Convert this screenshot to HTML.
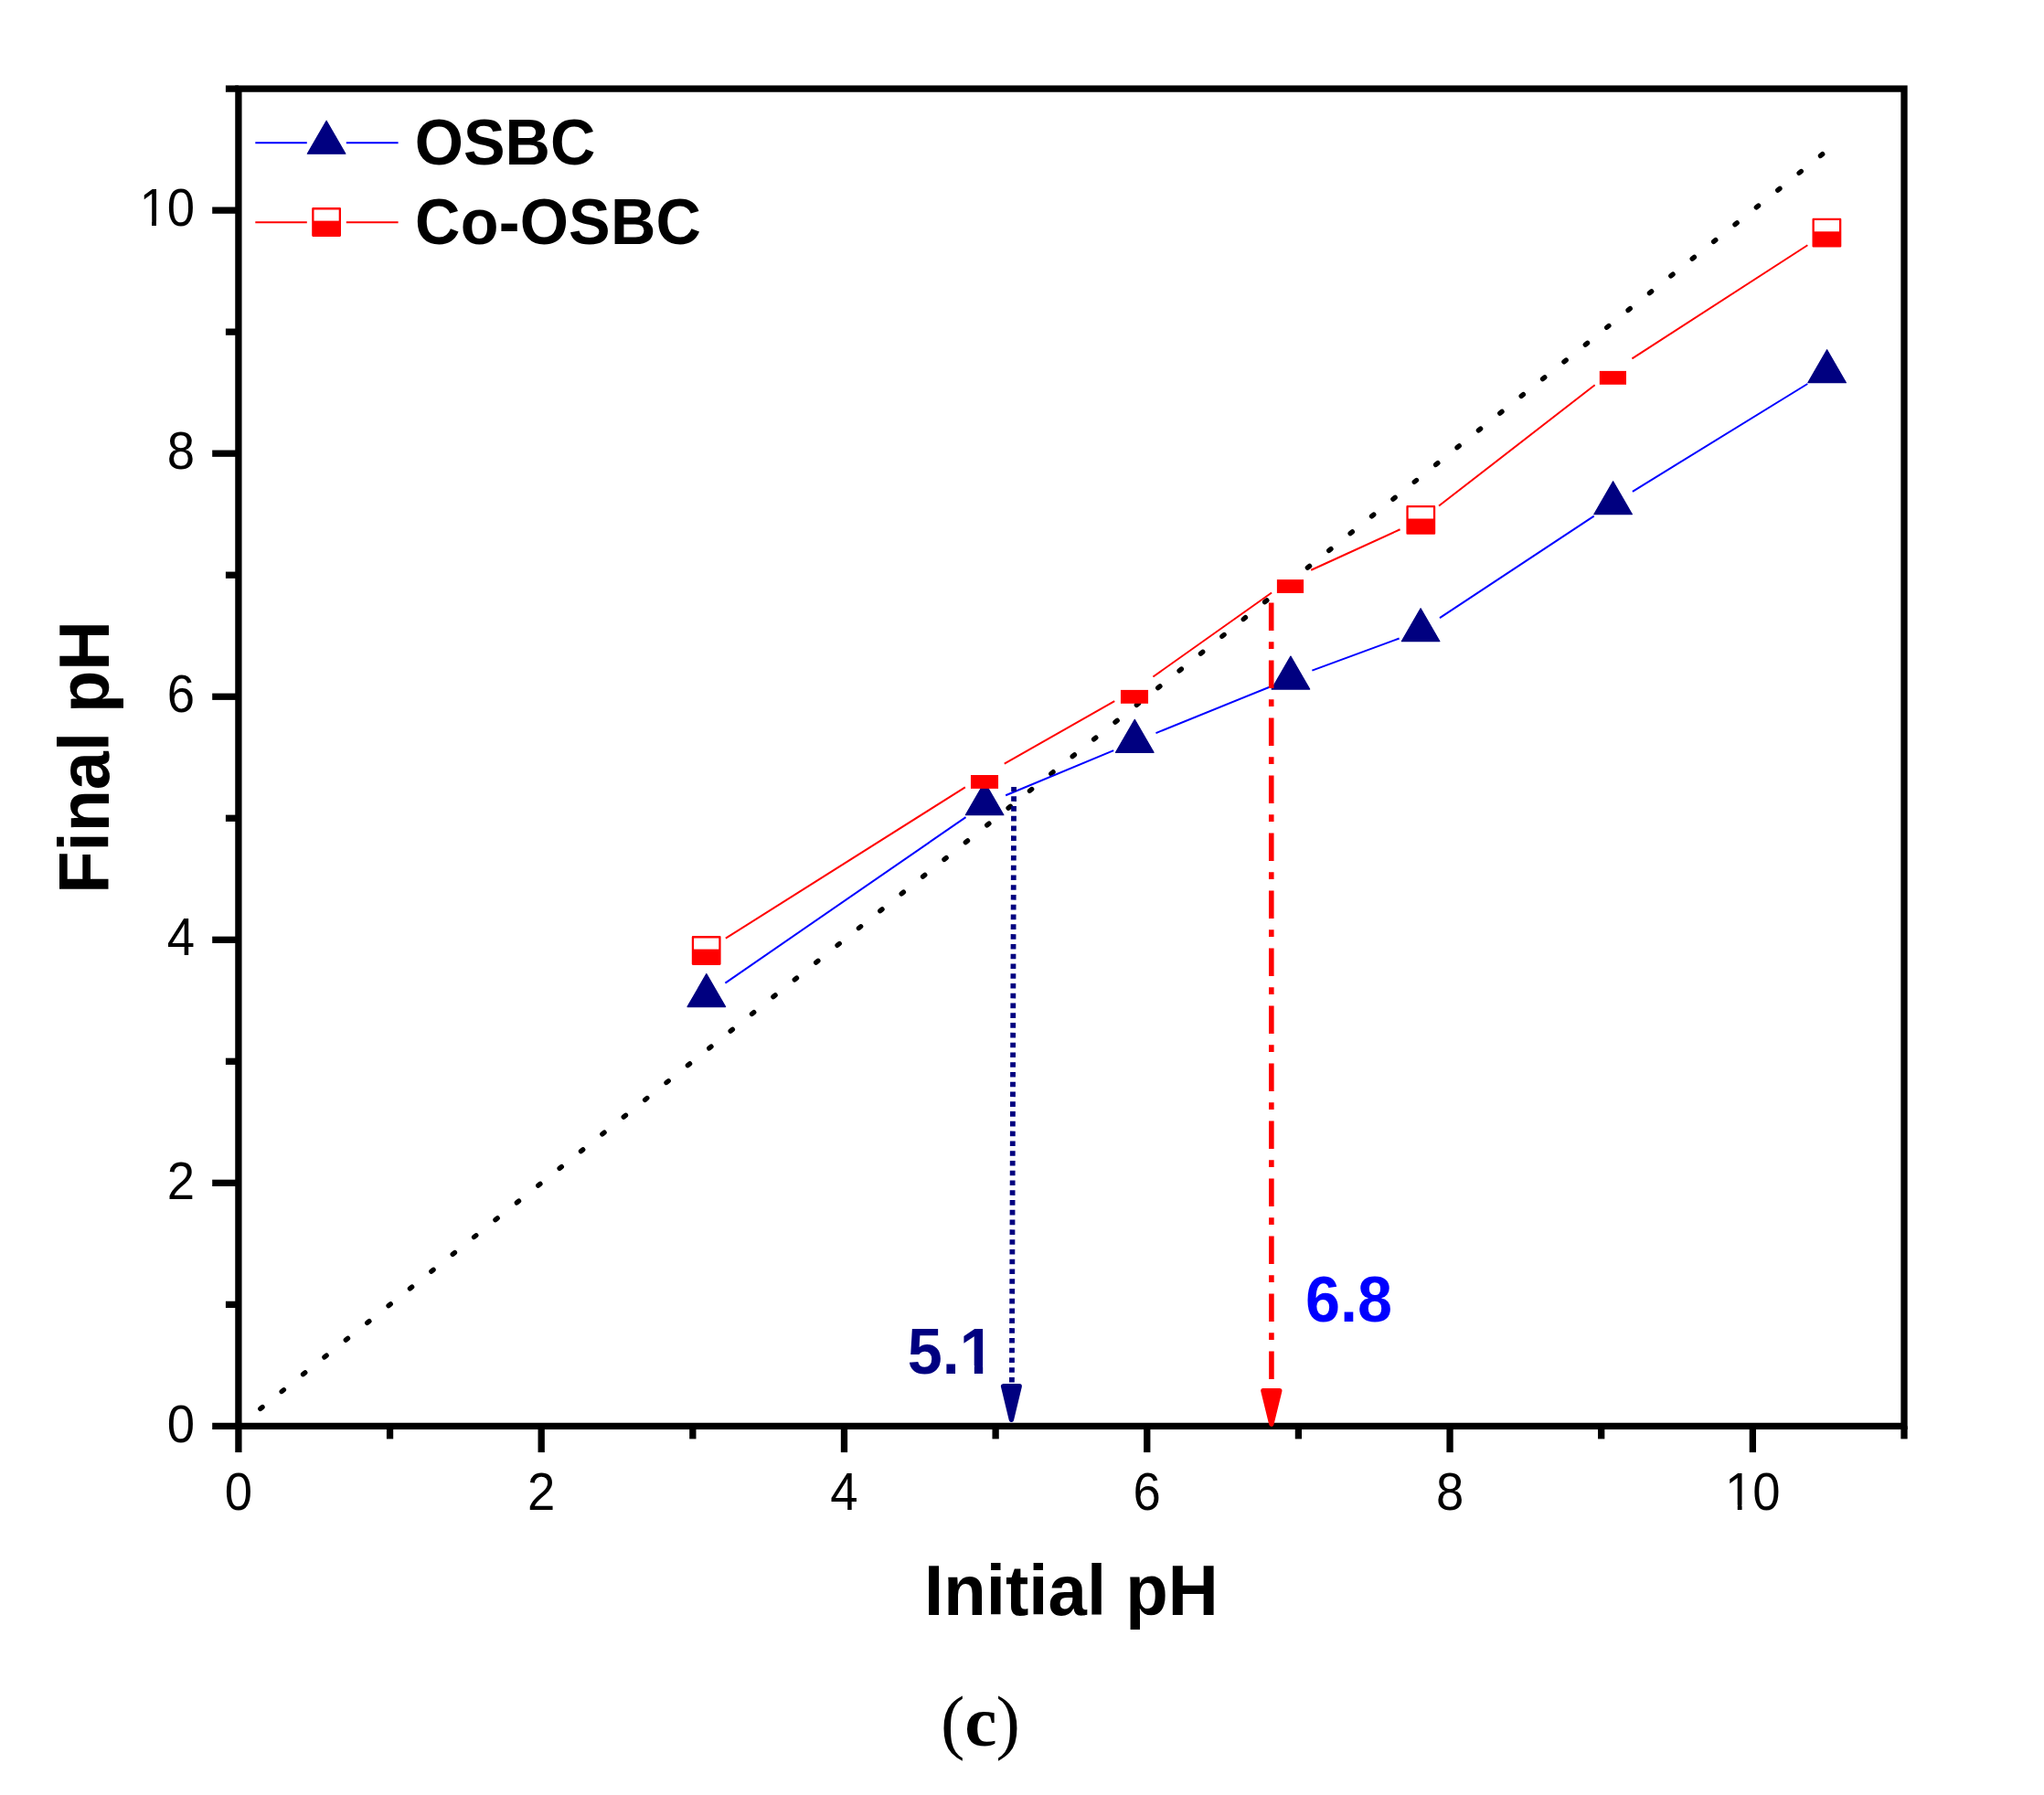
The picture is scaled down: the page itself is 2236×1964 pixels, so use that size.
<!DOCTYPE html>
<html lang="en"><head><meta charset="utf-8"><title>pHpzc plot (c)</title>
<style>
html,body{margin:0;padding:0;background:#fff;}
body{width:2236px;height:1964px;overflow:hidden;}
svg{display:block;}
text{font-family:"Liberation Sans",Arial,Helvetica,sans-serif;fill:#000;}
.tick{font-size:54.5px;}
.title{font-size:76.2px;font-weight:bold;}
.ytitle{font-size:75.7px;font-weight:bold;}
.leg{font-size:68.4px;font-weight:bold;}
.cap{font-family:"Liberation Serif","Times New Roman",serif;font-size:79.3px;}
</style></head><body>
<svg width="2236" height="1964" viewBox="0 0 2236 1964">
<rect x="0" y="0" width="2236" height="1964" fill="#fff"/>
<rect x="260.90" y="97.10" width="1822.10" height="1463.30" fill="none" stroke="#000" stroke-width="7.3"/>
<line x1="260.90" y1="1560.40" x2="260.90" y2="1589.10" stroke="#000" stroke-width="7.3"/>
<line x1="260.90" y1="1560.40" x2="232.20" y2="1560.40" stroke="#000" stroke-width="7.3"/>
<line x1="426.55" y1="1560.40" x2="426.55" y2="1574.40" stroke="#000" stroke-width="7.3"/>
<line x1="260.90" y1="1427.37" x2="246.90" y2="1427.37" stroke="#000" stroke-width="7.3"/>
<line x1="592.19" y1="1560.40" x2="592.19" y2="1589.10" stroke="#000" stroke-width="7.3"/>
<line x1="260.90" y1="1294.35" x2="232.20" y2="1294.35" stroke="#000" stroke-width="7.3"/>
<line x1="757.84" y1="1560.40" x2="757.84" y2="1574.40" stroke="#000" stroke-width="7.3"/>
<line x1="260.90" y1="1161.32" x2="246.90" y2="1161.32" stroke="#000" stroke-width="7.3"/>
<line x1="923.48" y1="1560.40" x2="923.48" y2="1589.10" stroke="#000" stroke-width="7.3"/>
<line x1="260.90" y1="1028.29" x2="232.20" y2="1028.29" stroke="#000" stroke-width="7.3"/>
<line x1="1089.13" y1="1560.40" x2="1089.13" y2="1574.40" stroke="#000" stroke-width="7.3"/>
<line x1="260.90" y1="895.26" x2="246.90" y2="895.26" stroke="#000" stroke-width="7.3"/>
<line x1="1254.77" y1="1560.40" x2="1254.77" y2="1589.10" stroke="#000" stroke-width="7.3"/>
<line x1="260.90" y1="762.24" x2="232.20" y2="762.24" stroke="#000" stroke-width="7.3"/>
<line x1="1420.42" y1="1560.40" x2="1420.42" y2="1574.40" stroke="#000" stroke-width="7.3"/>
<line x1="260.90" y1="629.21" x2="246.90" y2="629.21" stroke="#000" stroke-width="7.3"/>
<line x1="1586.06" y1="1560.40" x2="1586.06" y2="1589.10" stroke="#000" stroke-width="7.3"/>
<line x1="260.90" y1="496.18" x2="232.20" y2="496.18" stroke="#000" stroke-width="7.3"/>
<line x1="1751.71" y1="1560.40" x2="1751.71" y2="1574.40" stroke="#000" stroke-width="7.3"/>
<line x1="260.90" y1="363.15" x2="246.90" y2="363.15" stroke="#000" stroke-width="7.3"/>
<line x1="1917.35" y1="1560.40" x2="1917.35" y2="1589.10" stroke="#000" stroke-width="7.3"/>
<line x1="260.90" y1="230.13" x2="232.20" y2="230.13" stroke="#000" stroke-width="7.3"/>
<line x1="2083.00" y1="1560.40" x2="2083.00" y2="1574.40" stroke="#000" stroke-width="7.3"/>
<line x1="260.90" y1="97.10" x2="246.90" y2="97.10" stroke="#000" stroke-width="7.3"/>
<text class="tick" transform="translate(260.90,1652.40) scale(1,1.041)" text-anchor="middle">0</text>
<text class="tick" transform="translate(213.00,1577.60) scale(1,1.041)" text-anchor="end">0</text>
<text class="tick" transform="translate(592.19,1652.40) scale(1,1.041)" text-anchor="middle">2</text>
<text class="tick" transform="translate(213.00,1311.55) scale(1,1.041)" text-anchor="end">2</text>
<text class="tick" transform="translate(923.48,1652.40) scale(1,1.041)" text-anchor="middle">4</text>
<text class="tick" transform="translate(213.00,1045.49) scale(1,1.041)" text-anchor="end">4</text>
<text class="tick" transform="translate(1254.77,1652.40) scale(1,1.041)" text-anchor="middle">6</text>
<text class="tick" transform="translate(213.00,779.44) scale(1,1.041)" text-anchor="end">6</text>
<text class="tick" transform="translate(1586.06,1652.40) scale(1,1.041)" text-anchor="middle">8</text>
<text class="tick" transform="translate(213.00,513.38) scale(1,1.041)" text-anchor="end">8</text>
<text class="tick" transform="translate(1917.35,1652.40) scale(1,1.041)" text-anchor="middle">10</text>
<text class="tick" transform="translate(213.00,247.33) scale(1,1.041)" text-anchor="end">10</text>
<rect x="1889.70" y="1646.66" width="11.05" height="7.24" fill="#fff"/>
<rect x="1905.57" y="1646.66" width="10.63" height="7.24" fill="#fff"/>
<rect x="155.03" y="241.59" width="11.05" height="7.24" fill="#fff"/>
<rect x="170.90" y="241.59" width="10.63" height="7.24" fill="#fff"/>
<line x1="284.81" y1="1541.28" x2="1993.69" y2="168.72" stroke="#000" stroke-width="5.4" stroke-linecap="round" stroke-dasharray="2.800 27.187"/>
<line x1="793.38" y1="1075.60" x2="1056.52" y2="894.10" stroke="#0000ff" stroke-width="2"/>
<line x1="1100.18" y1="870.29" x2="1218.22" y2="821.11" stroke="#0000ff" stroke-width="2"/>
<line x1="1264.47" y1="802.10" x2="1388.73" y2="751.70" stroke="#0000ff" stroke-width="2"/>
<line x1="1435.36" y1="733.66" x2="1530.64" y2="698.54" stroke="#0000ff" stroke-width="2"/>
<line x1="1574.96" y1="676.12" x2="1743.74" y2="564.68" stroke="#0000ff" stroke-width="2"/>
<line x1="1785.89" y1="537.80" x2="1977.31" y2="420.00" stroke="#0000ff" stroke-width="2"/>
<line x1="793.84" y1="1026.66" x2="1055.86" y2="861.34" stroke="#ff0000" stroke-width="2"/>
<line x1="1098.74" y1="835.66" x2="1219.26" y2="767.24" stroke="#ff0000" stroke-width="2"/>
<line x1="1261.40" y1="740.45" x2="1391.10" y2="648.55" stroke="#ff0000" stroke-width="2"/>
<line x1="1434.24" y1="623.72" x2="1531.56" y2="579.28" stroke="#ff0000" stroke-width="2"/>
<line x1="1574.05" y1="553.58" x2="1744.65" y2="421.22" stroke="#ff0000" stroke-width="2"/>
<line x1="1785.40" y1="392.33" x2="1977.40" y2="268.27" stroke="#ff0000" stroke-width="2"/>
<polygon points="772.80,1065.60 793.60,1101.60 752.00,1101.60" fill="#000080" stroke="#000080" stroke-width="1.2" stroke-linejoin="round"/>
<polygon points="1077.10,855.70 1097.90,891.70 1056.30,891.70" fill="#000080" stroke="#000080" stroke-width="1.2" stroke-linejoin="round"/>
<polygon points="1241.30,787.30 1262.10,823.30 1220.50,823.30" fill="#000080" stroke="#000080" stroke-width="1.2" stroke-linejoin="round"/>
<polygon points="1411.90,718.10 1432.70,754.10 1391.10,754.10" fill="#000080" stroke="#000080" stroke-width="1.2" stroke-linejoin="round"/>
<polygon points="1554.10,665.70 1574.90,701.70 1533.30,701.70" fill="#000080" stroke="#000080" stroke-width="1.2" stroke-linejoin="round"/>
<polygon points="1764.60,526.70 1785.40,562.70 1743.80,562.70" fill="#000080" stroke="#000080" stroke-width="1.2" stroke-linejoin="round"/>
<polygon points="1998.60,382.70 2019.40,418.70 1977.80,418.70" fill="#000080" stroke="#000080" stroke-width="1.2" stroke-linejoin="round"/>
<rect x="757.95" y="1025.25" width="29.50" height="29.50" fill="#fff" stroke="#ff0000" stroke-width="2.3" stroke-linejoin="round"/>
<rect x="757.95" y="1038.60" width="29.50" height="16.15" fill="#ff0000"/>
<rect x="1061.95" y="848.00" width="30.10" height="14.90" fill="#ff0000"/>
<rect x="1225.95" y="754.90" width="30.10" height="14.90" fill="#ff0000"/>
<rect x="1396.90" y="634.10" width="29.20" height="14.90" fill="#ff0000"/>
<rect x="1539.55" y="554.15" width="29.50" height="29.50" fill="#fff" stroke="#ff0000" stroke-width="2.3" stroke-linejoin="round"/>
<rect x="1539.55" y="567.50" width="29.50" height="16.15" fill="#ff0000"/>
<rect x="1749.80" y="405.90" width="29.20" height="14.90" fill="#ff0000"/>
<rect x="1983.65" y="239.95" width="29.50" height="29.50" fill="#fff" stroke="#ff0000" stroke-width="2.3" stroke-linejoin="round"/>
<rect x="1983.65" y="253.30" width="29.50" height="16.15" fill="#ff0000"/>
<line x1="1106.9" y1="1512.6" x2="1109.1" y2="860.9" stroke="#000080" stroke-width="5.8" stroke-dasharray="5.6 5.175"/>
<polygon points="1097.6,1516.8 1115.2,1516.8 1106.4,1553.3" fill="#000080" stroke="#000080" stroke-width="5.4" stroke-linejoin="round"/>
<line x1="1390.7" y1="659.4" x2="1390.95" y2="1508.9" stroke="#ff0000" stroke-width="5.6" stroke-dasharray="30.5 12.4 7.7 12.4"/>
<polygon points="1381.9,1521.7 1399.8,1521.7 1390.85,1558.2" fill="#ff0000" stroke="#ff0000" stroke-width="5.4" stroke-linejoin="round"/>
<text class="title" transform="translate(1171.95,1766.90) scale(1,1.015)" text-anchor="middle">Initial pH</text>
<text class="ytitle" transform="translate(119.00,828.35) rotate(-90) scale(1,1.020)" text-anchor="middle">Final pH</text>
<line x1="279.3" y1="156.3" x2="335.8" y2="156.3" stroke="#0000ff" stroke-width="2"/>
<line x1="378.8" y1="156.3" x2="435.6" y2="156.3" stroke="#0000ff" stroke-width="2"/>
<polygon points="357.10,132.20 377.90,168.20 336.30,168.20" fill="#000080" stroke="#000080" stroke-width="1.2" stroke-linejoin="round"/>
<line x1="279.3" y1="243.2" x2="335.8" y2="243.2" stroke="#ff0000" stroke-width="2"/>
<line x1="378.8" y1="243.2" x2="435.6" y2="243.2" stroke="#ff0000" stroke-width="2"/>
<rect x="342.35" y="228.25" width="29.50" height="29.50" fill="#fff" stroke="#ff0000" stroke-width="2.3" stroke-linejoin="round"/>
<rect x="342.35" y="241.60" width="29.50" height="16.15" fill="#ff0000"/>
<text class="leg" transform="translate(453.80,180.00) scale(1,1.041)">OSBC</text>
<text class="leg" transform="translate(454.00,267.20) scale(1,1.041)" style="letter-spacing:0.25px">Co-OSBC</text>
<text class="leg" transform="translate(992.80,1502.80) scale(1,1.041)" style="fill:#000080">5.1</text>
<rect x="1052.65" y="1494.03" width="13.16" height="10.27" fill="#fff"/>
<rect x="1075.19" y="1494.03" width="12.29" height="10.27" fill="#fff"/>
<text class="leg" transform="translate(1428.00,1446.30) scale(1,1.041)" style="fill:#0000ff">6.8</text>
<text class="cap" y="1909.8"><tspan x="1029.1">(</tspan><tspan x="1055.3" font-weight="bold">c</tspan><tspan x="1089.6">)</tspan></text>
</svg></body></html>
